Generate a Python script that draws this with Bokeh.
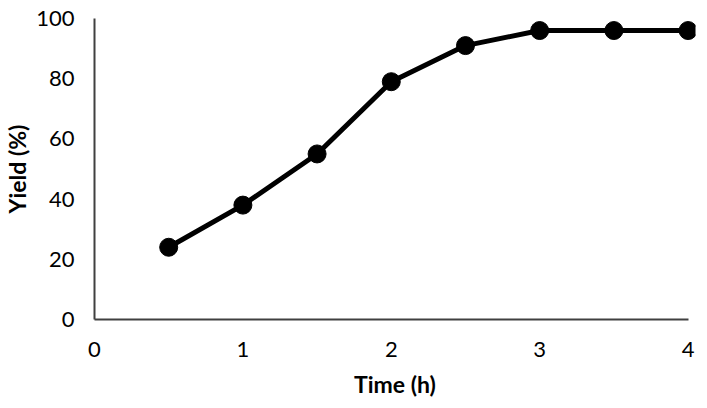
from bokeh.plotting import figure
from bokeh.models import Range1d, FixedTicker
from bokeh.embed import file_html
from bokeh.resources import INLINE

time_h = [0.5, 1.0, 1.5, 2.0, 2.5, 3.0, 3.5, 4.0]
yield_pct = [24, 38, 55, 79, 91, 96, 96, 96]
x_ticks = [0, 1, 2, 3, 4]
y_ticks = [0, 20, 40, 60, 80, 100]

FONT = "Lato"

p = figure(width=699, height=400, output_backend="svg", toolbar_location=None,
           x_range=Range1d(0, 4.05), y_range=Range1d(0, 100),
           min_border_left=80, min_border_right=4, min_border_top=18, min_border_bottom=80)
p.outline_line_color = None
p.grid.grid_line_color = None
p.background_fill_color = "white"

for ax in (p.xaxis[0], p.yaxis[0]):
    ax.major_tick_line_color = None
    ax.minor_tick_line_color = None
    ax.major_tick_out = 0
    ax.major_tick_in = 0
    ax.axis_line_color = "#404040"
    ax.axis_line_width = 2
    ax.major_label_text_font = FONT
    ax.major_label_text_font_size = "22px"
    ax.major_label_text_color = "black"
    ax.axis_label_text_font = FONT
    ax.axis_label_text_font_size = "23px"
    ax.axis_label_text_font_style = "bold"
    ax.axis_label_text_color = "black"

p.xaxis.bounds = (0, 4)
p.yaxis.bounds = (0, 100)
p.xaxis.ticker = FixedTicker(ticks=x_ticks)
p.yaxis.ticker = FixedTicker(ticks=y_ticks)
p.xaxis.axis_label = "Time (h)"
p.yaxis.axis_label = "Yield (%)"
p.xaxis.major_label_standoff = 22
p.yaxis.major_label_standoff = 20
p.xaxis.axis_label_standoff = 10
p.yaxis.axis_label_standoff = 2

p.line(time_h, yield_pct, line_color="black", line_width=5)
p.scatter(time_h, yield_pct, size=18, fill_color="black", line_color="black")

open("out.html", "w").write(file_html(p, INLINE))
